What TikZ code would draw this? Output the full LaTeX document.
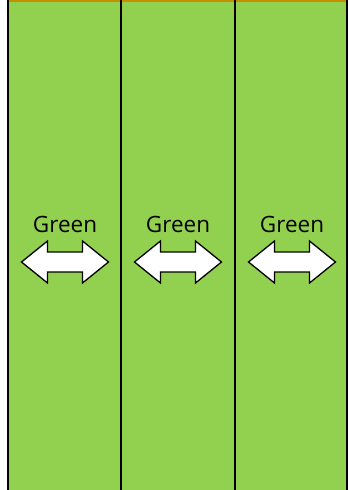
\documentclass[tikz,border=0pt]{standalone}
\usepackage{fontspec}
\setmainfont{Open Sans}
\definecolor{laneGreen}{RGB}{146,208,80}
\definecolor{laneTop}{RGB}{196,144,0}
\tikzset{lanebar/.style={draw=black,line width=2pt},
         lanelab/.style={font=\fontsize{22.5}{27}\selectfont,anchor=base,inner sep=0pt},
         lanearr/.style={draw=black,fill=white,line width=1.3pt,line join=miter}}
\begin{document}
\begin{tikzpicture}[x=1pt,y=1pt]
    \useasboundingbox (0,0) rectangle (348,490);
    \fill[laneGreen] (8,0) rectangle (347,490);
    \draw[laneTop,line width=2pt] (8,489) -- (347,489);
    \foreach \x/\n in {7.5/a,121/b,235/c,346.5/d}
      {\coordinate (\n t) at (\x,490); \coordinate (\n b) at (\x,0); \draw[lanebar] (\n t)--(\n b);}
    \foreach \x/\n in {65/one,178/two,292/three}
      {\node[lanelab] (lab\n) at (\x,257) {Green};
       \draw[lanearr] (\x-43.5,228) -- ++(26,21) -- ++(0,-11) -- ++(35,0) -- ++(0,11)
         -- ++(26,-21) -- ++(-26,-21) -- ++(0,11) -- ++(-35,0) -- ++(0,-11) -- cycle;}
  \end{tikzpicture}
\end{document}
